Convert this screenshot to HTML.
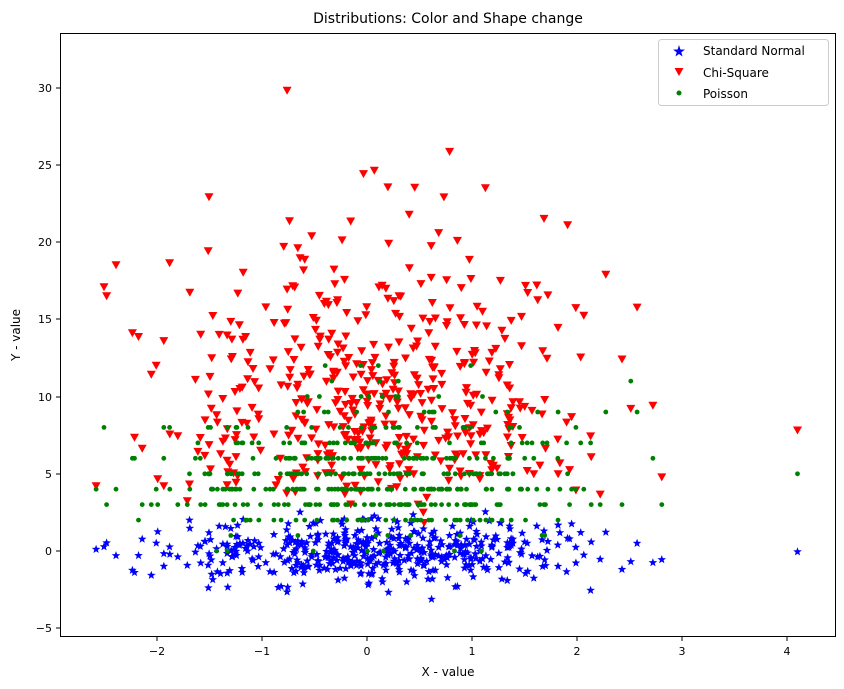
<!DOCTYPE html>
<html><head><meta charset="utf-8"><style>
body{margin:0;background:#fff;}
svg{display:block;font-family:"DejaVu Sans","Liberation Sans",sans-serif;}
</style></head><body>
<svg id="s" width="844" height="689" viewBox="0 0 844 689" xmlns="http://www.w3.org/2000/svg">
<rect x="0" y="0" width="844" height="689" fill="#fff"/>
<g id="pts"></g>
<rect x="60.5" y="33.5" width="775" height="603" fill="none" stroke="#000" stroke-width="1"/>
<g font-size="11" fill="#000" text-anchor="middle">
<line x1="157" y1="637" x2="157" y2="641" stroke="#000"/><text x="157" y="655">−2</text>
<line x1="262" y1="637" x2="262" y2="641" stroke="#000"/><text x="262" y="655">−1</text>
<line x1="367" y1="637" x2="367" y2="641" stroke="#000"/><text x="367" y="655">0</text>
<line x1="472" y1="637" x2="472" y2="641" stroke="#000"/><text x="472" y="655">1</text>
<line x1="577" y1="637" x2="577" y2="641" stroke="#000"/><text x="577" y="655">2</text>
<line x1="682" y1="637" x2="682" y2="641" stroke="#000"/><text x="682" y="655">3</text>
<line x1="787" y1="637" x2="787" y2="641" stroke="#000"/><text x="787" y="655">4</text>
<text x="448" y="676" font-size="12">X - value</text>
</g>
<g font-size="11" fill="#000" text-anchor="end">
<line x1="56" y1="628" x2="60" y2="628" stroke="#000"/><text x="52" y="632">−5</text>
<line x1="56" y1="551" x2="60" y2="551" stroke="#000"/><text x="52" y="555">0</text>
<line x1="56" y1="474" x2="60" y2="474" stroke="#000"/><text x="52" y="478">5</text>
<line x1="56" y1="397" x2="60" y2="397" stroke="#000"/><text x="52" y="401">10</text>
<line x1="56" y1="319" x2="60" y2="319" stroke="#000"/><text x="52" y="323">15</text>
<line x1="56" y1="242" x2="60" y2="242" stroke="#000"/><text x="52" y="246">20</text>
<line x1="56" y1="165" x2="60" y2="165" stroke="#000"/><text x="52" y="169">25</text>
<line x1="56" y1="88" x2="60" y2="88" stroke="#000"/><text x="52" y="92">30</text>
</g>
<text x="20" y="335" font-size="12" text-anchor="middle" transform="rotate(-90 20 335)">Y - value</text>
<text x="448" y="23" font-size="14" text-anchor="middle">Distributions: Color and Shape change</text>
<g>
<rect x="658.5" y="39.5" width="170" height="66" rx="3" fill="#fff" fill-opacity="0.85" stroke="#ccc"/>
<polygon points="679,45 680.4,49.5 685,49.6 681.3,52.3 682.6,56.5 679,54 675.4,56.5 676.7,52.3 673,49.6 677.6,49.5" fill="#00f"/>
<polygon points="674.5,68 683.5,68 679,76" fill="#f00"/>
<circle cx="679" cy="93" r="2.5" fill="#008000"/>
<g font-size="12" fill="#000"><text x="703" y="55">Standard Normal</text><text x="703" y="77">Chi-Square</text><text x="703" y="98">Poisson</text></g>
</g>
</svg>
<script>
(function(){
var seed=777;function r(){seed=(seed*1103515245+12345)&0x7fffffff;return seed/0x7fffffff;}
function n(){var u=r()||1e-9,v=r();return Math.sqrt(-2*Math.log(u))*Math.cos(2*Math.PI*v);}
function chi(k){var s=0;for(var i=0;i<k;i++){var z=n();s+=z*z;}return s;}
function pois(l){var L=Math.exp(-l),k=0,p=1;do{k++;p*=r();}while(p>L);return k-1;}
var N=500,xs=[],a=[],b=[],c=[];
for(var i=0;i<N;i++){var x=n();while(x<-2.6||x>3)x=n();xs.push(x);a.push(n());var q=chi(10);while(q>32)q=chi(10);b.push(q);c.push(pois(5));}
xs[0]=4.1;a[0]=-0.05;b[0]=7.8;c[0]=5;
function X(x){return 367+105*x;}function Y(y){return 551-15.45*y;}
var h='';
function star(cx,cy,R){var p=[];for(var k=0;k<10;k++){var rr=k%2?R*0.42:R;var t=-Math.PI/2+k*Math.PI/5;p.push((cx+rr*Math.cos(t)).toFixed(1)+','+(cy+rr*Math.sin(t)).toFixed(1));}return '<polygon points="'+p.join(' ')+'" fill="#00f"/>';}
for(i=0;i<N;i++)h+=star(X(xs[i]),Y(a[i]),4.5);
for(i=0;i<N;i++){var x=X(xs[i]),y=Y(b[i]);h+='<polygon points="'+(x-4.5).toFixed(1)+','+(y-4).toFixed(1)+' '+(x+4.5).toFixed(1)+','+(y-4).toFixed(1)+' '+x.toFixed(1)+','+(y+4).toFixed(1)+'" fill="#f00"/>';}
for(i=0;i<N;i++)h+='<circle cx="'+X(xs[i]).toFixed(1)+'" cy="'+Y(c[i]).toFixed(1)+'" r="2.4" fill="#008000"/>';
document.getElementById('pts').innerHTML=h;
})();
</script>
</body></html>
